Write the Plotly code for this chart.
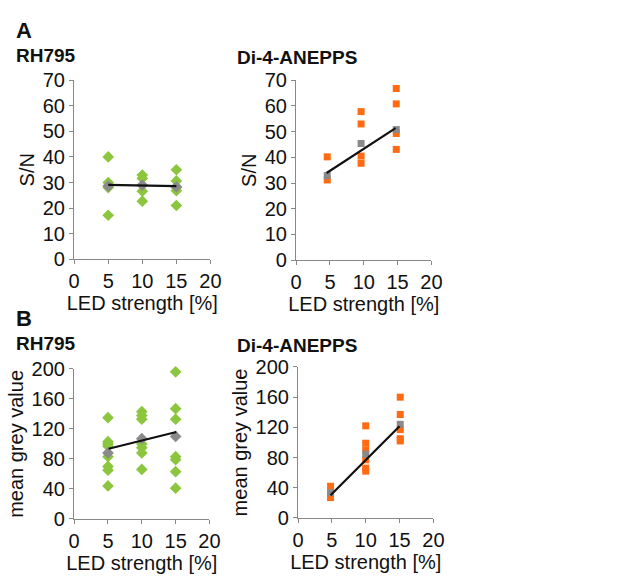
import plotly.graph_objects as go

# ---------------- data ----------------
a_rh_x = [5, 5, 5, 5, 10, 10, 10, 10, 15, 15, 15, 15, 15]
a_rh_y = [40.0, 30.0, 28.0, 17.2, 32.9, 31.6, 26.6, 22.7, 35.0, 30.6, 28.0, 26.8, 21.0]
a_rh_mean_x = [5, 10, 15]
a_rh_mean_y = [28.6, 29.0, 28.3]
a_rh_fit_x = [5, 15]
a_rh_fit_y = [29.1, 28.6]

a_di_x = [4.6, 4.6, 9.6, 9.6, 9.6, 9.6, 14.8, 14.8, 14.8, 14.8]
a_di_y = [40.2, 31.2, 57.8, 53.0, 40.5, 37.7, 66.8, 60.8, 49.3, 43.1]
a_di_mean_x = [4.6, 9.6, 14.8]
a_di_mean_y = [32.9, 45.4, 50.8]
a_di_fit_x = [4.5, 14.7]
a_di_fit_y = [33.9, 51.4]

b_rh_x = [5] * 8 + [10] * 7 + [15] * 7
b_rh_y = [135, 103, 100, 97, 83, 70, 65, 44,
          143, 138, 133, 100, 95, 88, 66,
          196, 147, 133, 83, 79, 63, 41]
b_rh_mean_x = [5, 10, 15]
b_rh_mean_y = [88, 107, 110]
b_rh_fit_x = [5.1, 15.1]
b_rh_fit_y = [93.6, 115.8]

b_di_x = [4.8, 4.8] + [10] * 6 + [15.1] * 5
b_di_y = [42, 27, 122, 99, 90, 77, 66, 62, 160, 137, 117, 105, 102]
b_di_mean_x = [4.8, 10, 15.1]
b_di_mean_y = [33.5, 84.5, 124]
b_di_fit_x = [4.8, 15.0]
b_di_fit_y = [30.2, 121.4]

x_ticks = [0, 5, 10, 15, 20]
a_y_ticks = [0, 10, 20, 30, 40, 50, 60, 70]
b_y_ticks = [0, 40, 80, 120, 160, 200]

# ---------------- styling ----------------
W, H = 643, 579
GREEN = "#8cc63e"
ORANGE = "#ff6a13"
GREY = "#8a8a8a"
FONT = "Liberation Sans, Arial, sans-serif"
FS = 20

fig = go.Figure()

panels = [
    ("x", "y", a_rh_x, a_rh_y, a_rh_mean_x, a_rh_mean_y, a_rh_fit_x, a_rh_fit_y, GREEN, "diamond", 9),
    ("x2", "y2", a_di_x, a_di_y, a_di_mean_x, a_di_mean_y, a_di_fit_x, a_di_fit_y, ORANGE, "square", 7),
    ("x3", "y3", b_rh_x, b_rh_y, b_rh_mean_x, b_rh_mean_y, b_rh_fit_x, b_rh_fit_y, GREEN, "diamond", 9),
    ("x4", "y4", b_di_x, b_di_y, b_di_mean_x, b_di_mean_y, b_di_fit_x, b_di_fit_y, ORANGE, "square", 7),
]

for xa, ya, px, py, mx, my, fx, fy, col, sym, sz in panels:
    fig.add_trace(go.Scatter(x=px, y=py, mode="markers", xaxis=xa, yaxis=ya,
                             marker=dict(symbol=sym, color=col, size=sz, line=dict(width=0)),
                             showlegend=False, cliponaxis=False))
    fig.add_trace(go.Scatter(x=mx, y=my, mode="markers", xaxis=xa, yaxis=ya,
                             marker=dict(symbol=sym, color=GREY, size=sz, line=dict(width=0)),
                             showlegend=False, cliponaxis=False))
    fig.add_trace(go.Scatter(x=fx, y=fy, mode="lines", xaxis=xa, yaxis=ya,
                             line=dict(color="#111111", width=2.2),
                             showlegend=False))


def px2dom_x(a, b):
    return [a / W, b / W]


def px2dom_y(top, bottom):
    return [1 - bottom / H, 1 - top / H]


axis_common = dict(showline=True, linecolor="#888888", linewidth=1.3,
                   ticks="outside", ticklen=4, tickcolor="#888888", tickwidth=1.2,
                   showgrid=False, zeroline=False,
                   tickfont=dict(family=FONT, size=FS, color="#111111"))


def ttl(t):
    return dict(text=t, font=dict(family=FONT, size=FS, color="#111111"), standoff=2)


layout_axes = {
    "xaxis": dict(domain=px2dom_x(70, 210), anchor="y", range=[0, 20], tickvals=x_ticks, title=ttl("LED strength [%]"), **axis_common),
    "yaxis": dict(domain=px2dom_y(72, 258), anchor="x", range=[0, 70], tickvals=a_y_ticks, title=ttl("S/N"), **axis_common),
    "xaxis2": dict(domain=px2dom_x(298, 437), anchor="y2", range=[0, 20], tickvals=x_ticks, title=ttl("LED strength [%]"), **axis_common),
    "yaxis2": dict(domain=px2dom_y(72, 259), anchor="x2", range=[0, 70], tickvals=a_y_ticks, title=ttl("S/N"), **axis_common),
    "xaxis3": dict(domain=px2dom_x(70, 209), anchor="y3", range=[0, 20], tickvals=x_ticks, title=ttl("LED strength [%]"), **axis_common),
    "yaxis3": dict(domain=px2dom_y(372, 528), anchor="x3", range=[0, 200], tickvals=b_y_ticks, title=ttl("mean grey value"), **axis_common),
    "xaxis4": dict(domain=px2dom_x(300, 439), anchor="y4", range=[0, 20], tickvals=x_ticks, title=ttl("LED strength [%]"), **axis_common),
    "yaxis4": dict(domain=px2dom_y(370, 527), anchor="x4", range=[0, 200], tickvals=b_y_ticks, title=ttl("mean grey value"), **axis_common),
}

annotations = [
    dict(text="<b>A</b>", x=9 / W, y=1 - 20 / H, size=22),
    dict(text="<b>RH795</b>", x=9 / W, y=1 - 46 / H, size=19),
    dict(text="<b>Di-4-ANEPPS</b>", x=236 / W, y=1 - 48 / H, size=19),
    dict(text="<b>B</b>", x=9 / W, y=1 - 320 / H, size=22),
    dict(text="<b>RH795</b>", x=9 / W, y=1 - 346 / H, size=19),
    dict(text="<b>Di-4-ANEPPS</b>", x=236 / W, y=1 - 348 / H, size=19),
]
ann = [dict(text=a["text"], x=a["x"], y=a["y"], xref="paper", yref="paper",
            xanchor="left", yanchor="middle", showarrow=False, borderpad=0,
            font=dict(family=FONT, size=a["size"], color="#111111")) for a in annotations]

fig.update_layout(width=W, height=H, margin=dict(l=0, r=0, t=0, b=0, pad=0),
                  paper_bgcolor="white", plot_bgcolor="white",
                  annotations=ann, **layout_axes)

fig.write_html("out.html",
               config={"displayModeBar": False},
               post_script="document.body.style.margin='0';document.body.style.overflow='hidden';")
